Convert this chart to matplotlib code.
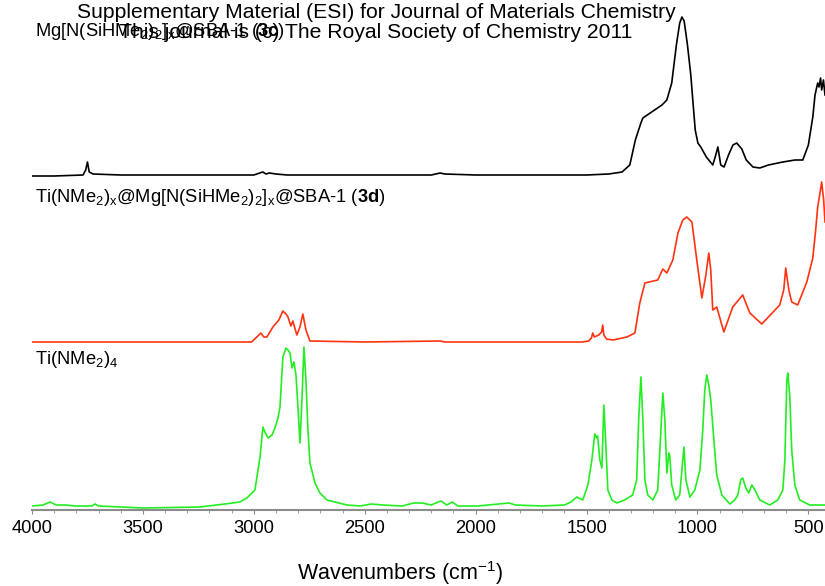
import numpy as np
import matplotlib
matplotlib.use("Agg")
import matplotlib.pyplot as plt
from matplotlib.ticker import MultipleLocator

plt.rcParams['font.family'] = ['Liberation Sans', 'DejaVu Sans']
plt.rcParams['mathtext.fontset'] = 'custom'
plt.rcParams['mathtext.rm'] = 'Liberation Sans'
plt.rcParams['mathtext.it'] = 'Liberation Sans:italic'
plt.rcParams['mathtext.bf'] = 'Liberation Sans:bold'

# ---- data (wavenumber, relative intensity) ----
wn_3c = [4000, 3900, 3770, 3758, 3750, 3742, 3725, 3600, 3300, 3000, 2960, 2945, 2930, 2900, 2850,
         2500, 2200, 2160, 2140, 2000, 1700, 1500, 1400, 1340, 1305, 1280, 1255, 1246, 1200, 1160,
         1138, 1116, 1095, 1080, 1070, 1060, 1045, 1030, 1021, 1010, 998, 985, 960, 931, 920, 908,
         900, 895, 880, 860, 840, 823, 800, 780, 750, 719, 680, 615, 560, 525, 500, 480, 470, 458,
         452, 445, 440, 432, 425]
int_3c = [-1, -1, 0, 5, 13, 3, 1, 0, 0, 0, 3, 1, 2, 1, 0,
          0, 0, 2, 1, 0, 0, 0, 1, 3, 10, 35, 52, 57, 64, 70,
          75, 92, 130, 152, 158, 154, 130, 100, 75, 45, 32, 28, 18, 10, 18, 28,
          17, 10, 8, 20, 30, 32, 26, 15, 8, 7, 10, 13, 15, 15, 30, 58, 80, 92,
          88, 97, 85, 95, 80]

wn_3d = [4000, 3500, 3010, 2968, 2955, 2941, 2914, 2887, 2869, 2855, 2846, 2833, 2824, 2806, 2792,
         2779, 2765, 2747, 2500, 2160, 2140, 1800, 1520, 1490, 1478, 1472, 1465, 1445, 1432, 1427,
         1422, 1410, 1380, 1318, 1282, 1260, 1237, 1179, 1156, 1138, 1111, 1088, 1066, 1048, 1025,
         1003, 980, 962, 949, 940, 931, 913, 899, 881, 841, 796, 764, 710, 629, 611, 602, 588,
         575, 548, 507, 480, 467, 458, 449, 440, 431, 425]
int_3d = [0, 0, 0, 9, 5, 5, 15, 22, 31, 28, 25, 16, 21, 7, 15,
          28, 12, 1, 0, 1, 0, 0, 0, 1, 4, 9, 5, 7, 10, 17,
          7, 3, 2, 5, 9, 39, 59, 62, 73, 69, 82, 109, 122, 125, 120,
          82, 44, 67, 89, 72, 32, 35, 24, 10, 35, 47, 29, 18, 37, 52, 74, 52,
          40, 37, 60, 84, 112, 135, 147, 160, 142, 120]

wn_ti = [4000, 3950, 3919, 3890, 3850, 3806, 3730, 3716, 3700, 3500, 3243, 3130, 3063, 3031, 2995,
         2981, 2972, 2959, 2950, 2936, 2918, 2905, 2891, 2882, 2869, 2855, 2846, 2837, 2828, 2819,
         2810, 2801, 2792, 2783, 2774, 2765, 2756, 2747, 2724, 2702, 2670, 2580, 2520, 2470, 2420,
         2330, 2280, 2241, 2200, 2180, 2156, 2130, 2106, 2080, 1990, 1850, 1820, 1700, 1600, 1570,
         1544, 1517, 1494, 1476, 1463, 1454, 1450, 1440, 1431, 1422, 1413, 1404, 1386, 1364, 1328,
         1292, 1274, 1265, 1255, 1246, 1237, 1224, 1201, 1179, 1165, 1156, 1147, 1138, 1129, 1125,
         1116, 1098, 1080, 1070, 1061, 1052, 1034, 1012, 989, 976, 967, 958, 949, 940, 926,
         913, 890, 854, 832, 818, 805, 796, 782, 769, 755, 741, 719, 674, 638, 615, 606,
         597, 593, 584, 575, 561, 539, 494, 425]
int_ti = [0, 1, 4, 1, 1, 0, 0, 2, 0, -2, -1, 2, 4, 8, 16,
          36, 49, 79, 74, 68, 71, 78, 88, 99, 149, 158, 156, 153, 138, 144,
          131, 99, 63, 106, 159, 126, 76, 43, 23, 13, 6, 1, 0, 2, 1,
          0, 3, 3, 1, 3, 5, 1, 4, 0, 0, 3, 1, 0, 1, 4,
          9, 6, 21, 46, 72, 68, 70, 46, 38, 101, 61, 16, 6, 3, 6,
          11, 26, 86, 129, 86, 26, 11, 6, 16, 76, 113, 86, 33, 53, 51,
          21, 6, 11, 36, 59, 26, 9, 16, 36, 76, 116, 131, 121, 106, 66,
          31, 11, 2, 6, 11, 26, 28, 18, 13, 21, 16, 6, 1, 6, 16, 46,
          126, 133, 111, 56, 21, 6, 1, 1]

x_ticks = [4000, 3500, 3000, 2500, 2000, 1500, 1000, 500]
labels = [r'Mg[N(SiHMe$_2$)$_2$]$_\mathrm{x}$@SBA-1 ($\mathbf{3c}$)',
          r'Ti(NMe$_2$)$_\mathrm{x}$@Mg[N(SiHMe$_2$)$_2$]$_\mathrm{x}$@SBA-1 ($\mathbf{3d}$)',
          r'Ti(NMe$_2$)$_4$']

# ---- figure ----
W, H = 825, 586
fig = plt.figure(figsize=(W / 100, H / 100), dpi=100)
ax = fig.add_axes([32 / W, (H - 510) / H, (W - 32) / W, 510 / H])

offsets = [335, 168, 4]
colors = ['#000000', '#ff3311', '#22ee22']
for (wn, it), off, c in zip([(wn_3c, int_3c), (wn_3d, int_3d), (wn_ti, int_ti)], offsets, colors):
    ax.plot(wn, np.asarray(it) + off, color=c, lw=1.2, solid_joinstyle='round')

ax.set_xlim(4000, 425)
ax.set_ylim(0, 510)
for s in ['left', 'right', 'top']:
    ax.spines[s].set_visible(False)
ax.spines['bottom'].set_color('#8c8c8c')
ax.spines['bottom'].set_linewidth(1.5)
ax.set_yticks([])
ax.set_xticks(x_ticks)
ax.set_xticklabels([str(t) for t in x_ticks])
ax.xaxis.set_minor_locator(MultipleLocator(100))
ax.tick_params(axis='x', which='major', length=3, color='#8c8c8c', labelsize=13.2, pad=4)
ax.tick_params(axis='x', which='minor', length=2, color='#8c8c8c')

fig.text(400 / W, 1 - 573 / H, r'Wavenumbers (cm$^{-1}$)', fontsize=15.5, ha='center', va='center')

# trace labels
label_y = [478, 313, 150]
for lab, y in zip(labels, label_y):
    ax.text(4000 - 3 / 0.2219, y, lab, fontsize=13.2, va='center', ha='left')

# header
fig.text(376 / W, 1 - 12 / H, 'Supplementary Material (ESI) for Journal of Materials Chemistry',
         ha='center', va='center', fontsize=15.2)
fig.text(376 / W, 1 - 33 / H, 'This journal is (c) The Royal Society of Chemistry 2011',
         ha='center', va='center', fontsize=15.2)

fig.savefig('out.png', dpi=100)
